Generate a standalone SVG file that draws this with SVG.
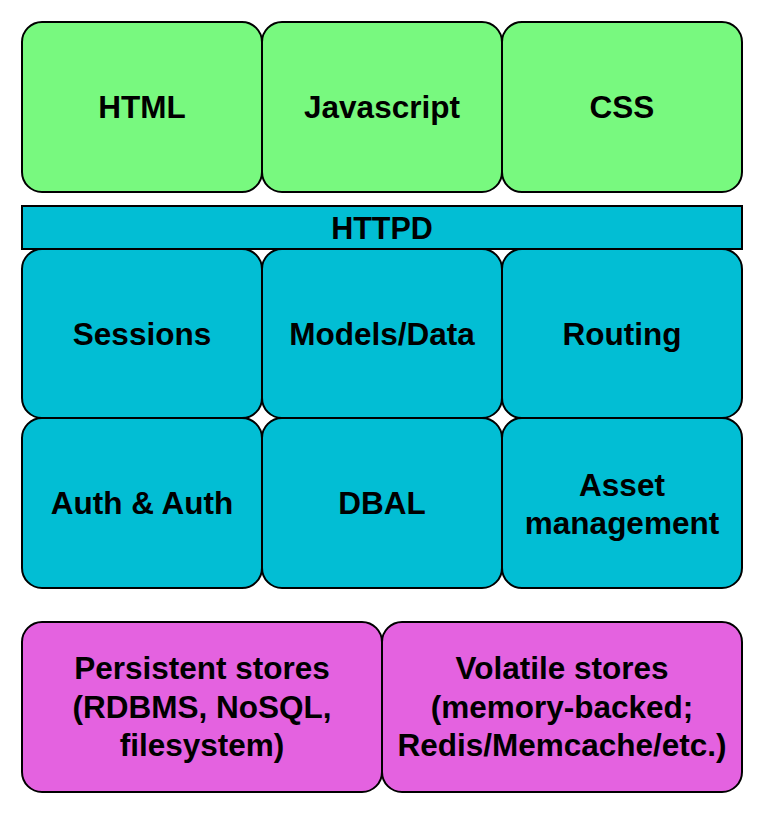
<svg xmlns="http://www.w3.org/2000/svg" width="766" height="816" viewBox="0 0 766 816">
<style>
rect{stroke:#000;stroke-width:2}
.g{fill:#78F97F}
.c{fill:#02BED4}
.m{fill:#E462E0}
text{font-family:"Liberation Sans",Arial,sans-serif;font-weight:bold;font-size:31.5px;fill:#000;text-anchor:middle}
</style>
<rect width="766" height="816" fill="#fff" style="stroke:none"/>
<g id="html"><rect class="g" x="22" y="22" width="240" height="170" rx="20"/><text x="142" y="118">HTML</text></g>
<g id="javascript"><rect class="g" x="262" y="22" width="240" height="170" rx="20"/><text x="382" y="118">Javascript</text></g>
<g id="css"><rect class="g" x="502" y="22" width="240" height="170" rx="20"/><text x="622" y="118">CSS</text></g>
<g id="httpd"><rect class="c" x="22" y="206" width="720" height="43"/><text x="382" y="238.5" style="font-size:30.5px">HTTPD</text></g>
<g id="sessions"><rect class="c" x="22" y="249" width="240" height="169" rx="20"/><text x="142" y="345">Sessions</text></g>
<g id="models"><rect class="c" x="262" y="249" width="240" height="169" rx="20"/><text x="382" y="345">Models/Data</text></g>
<g id="routing"><rect class="c" x="502" y="249" width="240" height="169" rx="20"/><text x="622" y="345">Routing</text></g>
<g id="auth"><rect class="c" x="22" y="418" width="240" height="170" rx="20"/><text x="142" y="514">Auth &amp; Auth</text></g>
<g id="dbal"><rect class="c" x="262" y="418" width="240" height="170" rx="20"/><text x="382" y="514">DBAL</text></g>
<g id="asset"><rect class="c" x="502" y="418" width="240" height="170" rx="20"/><text x="622" y="496">Asset</text><text x="622" y="533.5">management</text></g>
<g id="persistent"><rect class="m" x="22" y="622" width="360" height="170" rx="20"/><text x="202" y="679">Persistent stores</text><text x="202" y="718">(RDBMS, NoSQL,</text><text x="202" y="756">filesystem)</text></g>
<g id="volatile"><rect class="m" x="382" y="622" width="360" height="170" rx="20"/><text x="562" y="679">Volatile stores</text><text x="562" y="718">(memory-backed;</text><text x="562" y="756">Redis/Memcache/etc.)</text></g>
<g id="connectors"></g>
</svg>
